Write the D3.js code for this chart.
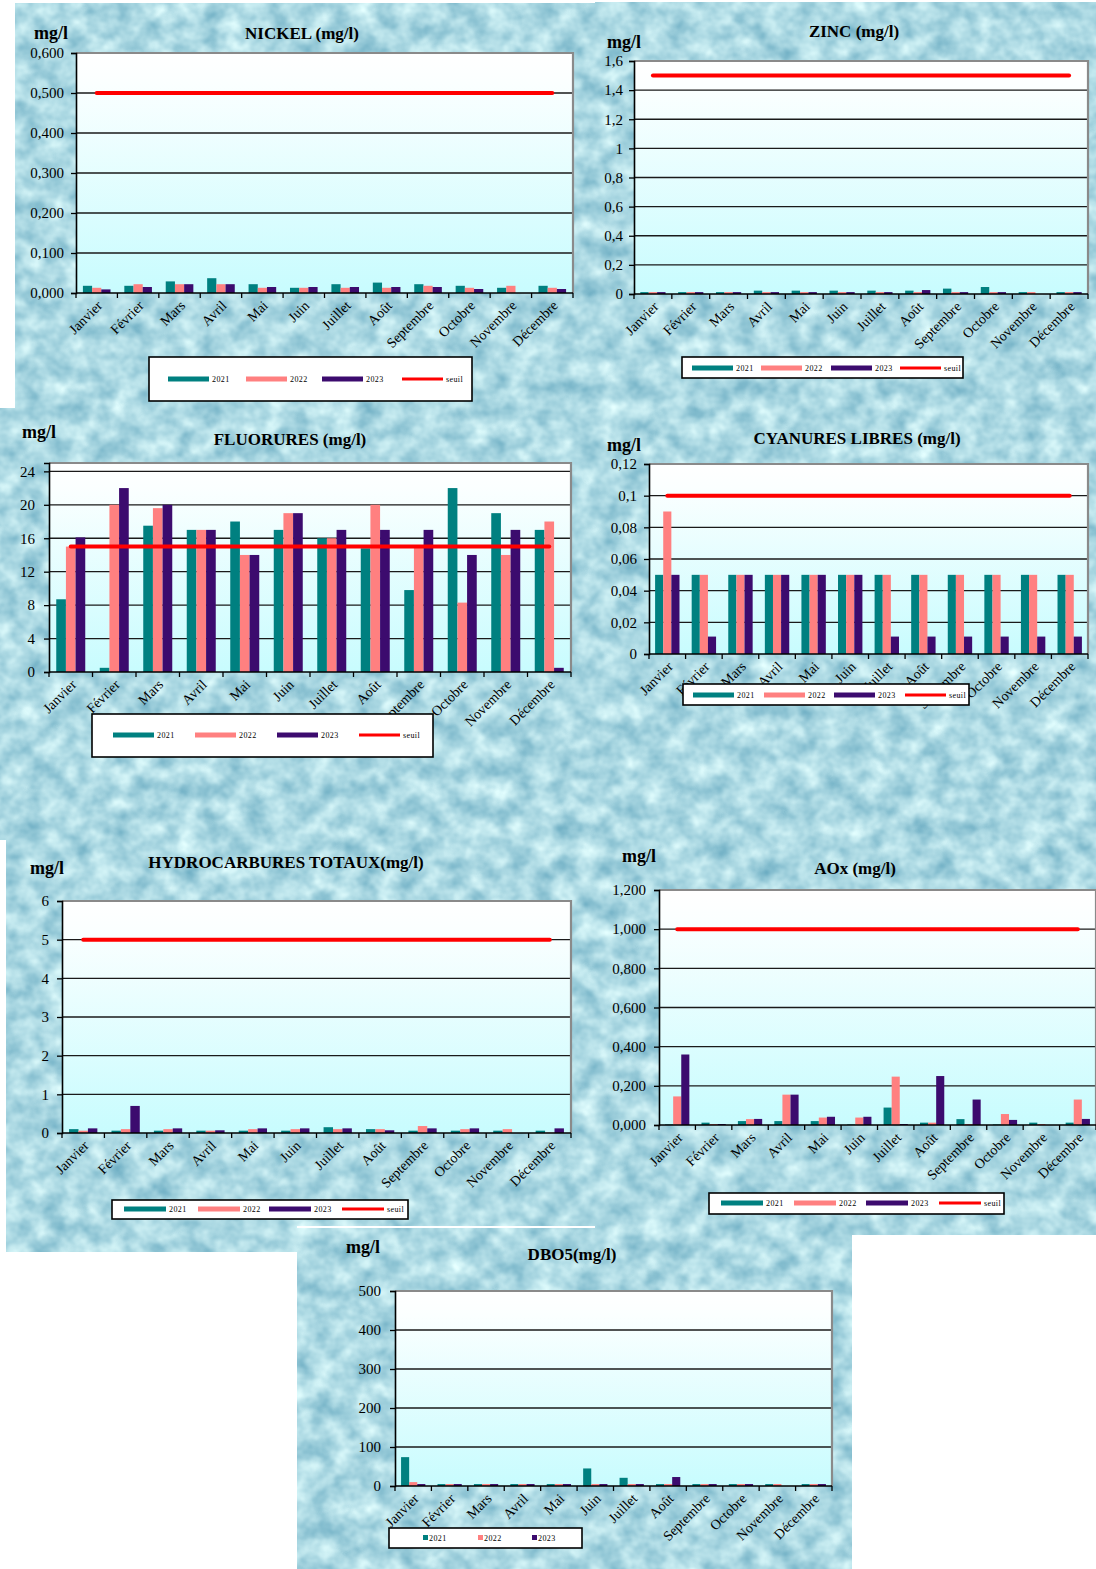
<!DOCTYPE html>
<html><head><meta charset="utf-8">
<script src="https://cdn.jsdelivr.net/npm/d3@7"></script>
<style>body{margin:0;background:#fff} svg{display:block}</style>
</head><body><svg id="c" width="1096" height="1569"></svg>
<script>
// ---------- DATA ----------
const months = ["Janvier","Février","Mars","Avril","Mai","Juin","Juillet","Août","Septembre","Octobre","Novembre","Décembre"];
const years = ["2021","2022","2023"];

const nickel2021 = [0.018,0.018,0.029,0.037,0.022,0.013,0.022,0.026,0.022,0.018,0.013,0.018];
const nickel2022 = [0.013,0.022,0.022,0.022,0.013,0.013,0.013,0.013,0.018,0.013,0.018,0.013];
const nickel2023 = [0.009,0.015,0.022,0.022,0.015,0.015,0.015,0.015,0.015,0.010,0,0.010];
const nickelSeuil = 0.5;
const nickelTicks = [0,0.1,0.2,0.3,0.4,0.5,0.6];
const nickelTickLabels = ["0,000","0,100","0,200","0,300","0,400","0,500","0,600"];

const zinc2021 = [0.013,0.013,0.013,0.023,0.023,0.023,0.023,0.023,0.037,0.048,0.013,0.013];
const zinc2022 = [0.013,0.013,0.013,0.013,0.013,0.013,0.013,0.013,0.013,0.013,0.013,0.013];
const zinc2023 = [0.013,0.013,0.013,0.013,0.013,0.013,0.013,0.027,0.013,0.013,0,0.013];
const zincSeuil = 1.5;
const zincTicks = [0,0.2,0.4,0.6,0.8,1,1.2,1.4,1.6];
const zincTickLabels = ["0","0,2","0,4","0,6","0,8","1","1,2","1,4","1,6"];

const fluor2021 = [8.7,0.5,17.5,17,18,17,16,14.8,9.8,22,19,17];
const fluor2022 = [15,20,19.6,17,14,19,16,20,15,8.3,14,18];
const fluor2023 = [16.1,22,20,17,14,19,17,17,17,14,17,0.5];
const fluorSeuil = 15;
const fluorTicks = [0,4,8,12,16,20,24];
const fluorTickLabels = ["0","4","8","12","16","20","24"];

const cyan2021 = [0.05,0.05,0.05,0.05,0.05,0.05,0.05,0.05,0.05,0.05,0.05,0.05];
const cyan2022 = [0.09,0.05,0.05,0.05,0.05,0.05,0.05,0.05,0.05,0.05,0.05,0.05];
const cyan2023 = [0.05,0.011,0.05,0.05,0.05,0.05,0.011,0.011,0.011,0.011,0.011,0.011];
const cyanSeuil = 0.1;
const cyanTicks = [0,0.02,0.04,0.06,0.08,0.1,0.12];
const cyanTickLabels = ["0","0,02","0,04","0,06","0,08","0,1","0,12"];

const hydro2021 = [0.1,0.06,0.06,0.06,0.06,0.06,0.15,0.1,0.06,0.06,0.06,0.06];
const hydro2022 = [0.06,0.1,0.1,0.06,0.1,0.1,0.1,0.1,0.18,0.1,0.1,0.01];
const hydro2023 = [0.12,0.7,0.12,0.07,0.12,0.12,0.12,0.07,0.12,0.12,0,0.12];
const hydroSeuil = 5;
const hydroTicks = [0,1,2,3,4,5,6];
const hydroTickLabels = ["0","1","2","3","4","5","6"];

const aox2021 = [0.003,0.012,0.02,0.02,0.02,0.003,0.089,0.012,0.03,0.003,0.012,0.012];
const aox2022 = [0.146,0.005,0.03,0.155,0.038,0.038,0.247,0.012,0.005,0.056,0.005,0.13];
const aox2023 = [0.36,0.005,0.031,0.155,0.042,0.042,0.005,0.25,0.13,0.026,0,0.031];
const aoxSeuil = 1.0;
const aoxTicks = [0,0.2,0.4,0.6,0.8,1.0,1.2];
const aoxTickLabels = ["0,000","0,200","0,400","0,600","0,800","1,000","1,200"];

const dbo2021 = [74,5,5,5,5,45,21,5,5,5,5,5];
const dbo2022 = [10,5,5,5,5,5,5,5,5,5,5,5];
const dbo2023 = [5,5,5,5,5,5,5,23,5,5,0,5];
const dboTicks = [0,100,200,300,400,500];
const dboTickLabels = ["0","100","200","300","400","500"];

// ---------- STYLE / LAYOUT ----------
const colors = {"2021":"#008080","2022":"#ff8080","2023":"#3c0b6e","seuil":"#ff0000"};
const serif = "'Liberation Serif','Times New Roman',serif";

const panels = [[15,3,582,407],[595,2,501,1233],[0,408,597,432],[6,840,590,386],[6,1226,291,26],[297,1228,555,341]];

const charts = [
 {title:"NICKEL (mg/l)", tx:302, ty:39, ux:34, uy:39, plot:[76,573,53,293], max:0.6, ticks:nickelTicks, tl:nickelTickLabels, series:[nickel2021,nickel2022,nickel2023], seuil:nickelSeuil, loff:12,
  legend:{box:[149,357,323,44], y:379, xs:[168,246,322,402], w:41}},
 {title:"ZINC (mg/l)", tx:854, ty:37, ux:607, uy:48, plot:[634,1088,61,294], max:1.6, ticks:zincTicks, tl:zincTickLabels, series:[zinc2021,zinc2022,zinc2023], seuil:zincSeuil, loff:11,
  legend:{box:[682,357,281,21], y:368, xs:[692,761,831,900], w:41}},
 {title:"FLUORURES (mg/l)", tx:290, ty:445, ux:22, uy:438, plot:[49,571,463,672], max:25, ticks:fluorTicks, tl:fluorTickLabels, series:[fluor2021,fluor2022,fluor2023], seuil:fluorSeuil, loff:14,
  legend:{box:[92,714,341,43], y:735, xs:[113,195,277,359], w:41}},
 {title:"CYANURES LIBRES (mg/l)", tx:857, ty:444, ux:607, uy:451, plot:[649,1088,464,654], max:0.12, ticks:cyanTicks, tl:cyanTickLabels, series:[cyan2021,cyan2022,cyan2023], seuil:cyanSeuil, loff:12,
  legend:{box:[683,684,286,21], y:695, xs:[693,764,834,905], w:41}},
 {title:"HYDROCARBURES TOTAUX(mg/l)", tx:286, ty:868, ux:30, uy:874, plot:[62,571,901,1133], max:6, ticks:hydroTicks, tl:hydroTickLabels, series:[hydro2021,hydro2022,hydro2023], seuil:hydroSeuil, loff:13,
  legend:{box:[112,1200,296,19], y:1209, xs:[124,198,269,342], w:42}},
 {title:"AOx (mg/l)", tx:855, ty:874, ux:622, uy:862, plot:[659,1096,890,1125], max:1.2, ticks:aoxTicks, tl:aoxTickLabels, series:[aox2021,aox2022,aox2023], seuil:aoxSeuil, loff:13,
  legend:{box:[709,1193,295,21], y:1203, xs:[721,794,866,939], w:42}},
 {title:"DBO5(mg/l)", tx:572, ty:1260, ux:346, uy:1253, plot:[395,832,1291,1486], max:500, ticks:dboTicks, tl:dboTickLabels, series:[dbo2021,dbo2022,dbo2023], seuil:null, loff:14,
  legend:{box:[389,1528,193,20], y:1538, xs:[423,478,532], w:5, marker:true}}
];

// ---------- DRAW ----------
const svg = d3.select("#c");
const defs = svg.append("defs");

const f = defs.append("filter").attr("id","water").attr("filterUnits","userSpaceOnUse")
  .attr("x",0).attr("y",0).attr("width",1096).attr("height",1569)
  .attr("color-interpolation-filters","sRGB");
f.append("feTurbulence").attr("type","fractalNoise").attr("baseFrequency","0.045 0.05").attr("numOctaves",3).attr("seed",7);
f.append("feColorMatrix").attr("type","matrix")
  .attr("values","0.55 0 0 0 0.40  0.38 0 0 0 0.66  0.28 0 0 0 0.75  0 0 0 0 1");

const clip = defs.append("clipPath").attr("id","panels");
panels.forEach(p => clip.append("rect").attr("x",p[0]).attr("y",p[1]).attr("width",p[2]).attr("height",p[3]));

svg.append("rect").attr("width",1096).attr("height",1569).attr("fill","#b0dde6")
  .attr("filter","url(#water)").attr("clip-path","url(#panels)");

const grad = defs.append("linearGradient").attr("id","plotbg").attr("x1",0).attr("y1",0).attr("x2",0).attr("y2",1);
grad.append("stop").attr("offset","0").attr("stop-color","#ffffff");
grad.append("stop").attr("offset","0.12").attr("stop-color","#fbffff");
grad.append("stop").attr("offset","1").attr("stop-color","#c8fcfe");

charts.forEach(c => {
  const [x0,x1,y0,y1] = c.plot;
  const g = svg.append("g");
  const x = d3.scaleBand().domain(months).range([x0,x1]).paddingInner(0).paddingOuter(0);
  const bw = x.bandwidth();
  const xs = d3.scaleBand().domain(years).range([bw/6, bw*5/6]).padding(0);
  const y = d3.scaleLinear().domain([0,c.max]).range([y1,y0]);

  g.append("rect").attr("x",x0).attr("y",y0).attr("width",x1-x0).attr("height",y1-y0).attr("fill","url(#plotbg)");
  g.append("g").selectAll("line").data(c.ticks.filter(t=>t>0)).join("line")
    .attr("x1",x0).attr("x2",x1).attr("y1",d=>y(d)).attr("y2",d=>y(d))
    .attr("stroke","#1a1a1a").attr("stroke-width",1.3);
  g.append("path").attr("d",`M${x0},${y0}H${x1}V${y1}`).attr("fill","none").attr("stroke","#8a8a8a").attr("stroke-width",2.2);

  years.forEach((yr,i) => {
    g.append("g").selectAll("rect").data(c.series[i]).join("rect")
      .attr("x",(d,j)=>x(months[j])+xs(yr))
      .attr("width",xs.bandwidth())
      .attr("y",d=>y(d))
      .attr("height",d=>y1-y(d))
      .attr("fill",colors[yr]);
  });

  if (c.seuil !== null) {
    const line = d3.line().x(d=>x(d)+bw/2).y(()=>y(c.seuil));
    g.append("path").datum(months).attr("d",line).attr("fill","none")
      .attr("stroke",colors.seuil).attr("stroke-width",4).attr("stroke-linecap","round");
  }

  const ya = d3.axisLeft(y).tickValues(c.ticks).tickFormat((d,i)=>c.tl[i]).tickSize(5).tickPadding(c.loff-5);
  const yg = g.append("g").attr("transform",`translate(${x0},0)`).call(ya);
  yg.select(".domain").attr("stroke","#000").attr("stroke-width",1.6);
  yg.selectAll(".tick line").attr("stroke","#000").attr("stroke-width",1.3);
  yg.selectAll("text").attr("font-family",serif).attr("font-size",15).attr("fill","#000");

  g.append("line").attr("x1",x0).attr("x2",x1).attr("y1",y1).attr("y2",y1).attr("stroke","#000").attr("stroke-width",1.6);
  const bounds = months.map(m=>x(m)).concat([x1]);
  g.append("g").selectAll("line").data(bounds).join("line")
    .attr("x1",d=>d).attr("x2",d=>d).attr("y1",y1).attr("y2",y1+5)
    .attr("stroke","#000").attr("stroke-width",1.3);
  g.append("g").selectAll("text").data(months).join("text")
    .attr("transform",d=>`translate(${x(d)+bw/2+3},${y1+10}) rotate(-45)`)
    .attr("text-anchor","end").attr("dy","0.35em")
    .attr("font-family",serif).attr("font-size",14).attr("fill","#000")
    .text(d=>d);

  g.append("text").attr("x",c.tx).attr("y",c.ty).attr("text-anchor","middle")
    .attr("font-family",serif).attr("font-weight","bold").attr("font-size",17).text(c.title);
  g.append("text").attr("x",c.ux).attr("y",c.uy)
    .attr("font-family",serif).attr("font-weight","bold").attr("font-size",18).text("mg/l");

  const L = c.legend;
  const lg = g.append("g");
  lg.append("rect").attr("x",L.box[0]).attr("y",L.box[1]).attr("width",L.box[2]).attr("height",L.box[3])
    .attr("fill","#fff").attr("stroke","#000").attr("stroke-width",1.6);
  const keys = c.seuil !== null ? years.concat(["seuil"]) : years;
  keys.forEach((k,i) => {
    const sx = L.xs[i];
    if (L.marker) {
      lg.append("rect").attr("x",sx).attr("y",L.y-3).attr("width",5).attr("height",5).attr("fill",colors[k]);
    } else if (k === "seuil") {
      lg.append("line").attr("x1",sx).attr("x2",sx+L.w).attr("y1",L.y).attr("y2",L.y)
        .attr("stroke",colors.seuil).attr("stroke-width",3);
    } else {
      lg.append("rect").attr("x",sx).attr("y",L.y-2.5).attr("width",L.w).attr("height",5).attr("fill",colors[k]);
    }
    lg.append("text").attr("x",sx+L.w+(L.marker?1:3)).attr("y",L.y).attr("dy","0.35em")
      .attr("font-family",serif).attr("font-size",8).attr("letter-spacing",0.4).attr("fill","#000").text(k);
  });
});
</script></body></html>
